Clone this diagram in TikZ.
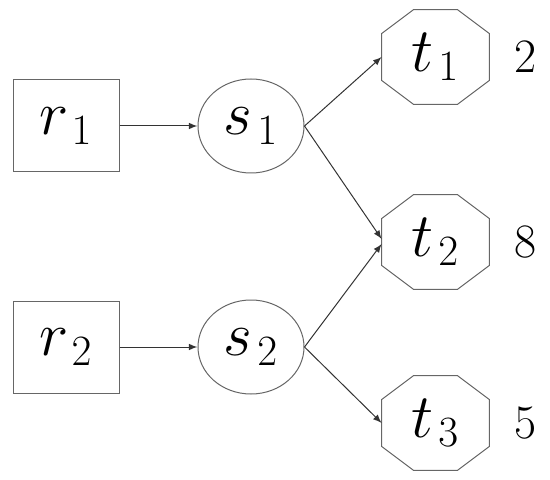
\documentclass[tikz,border=0pt]{standalone}
\usetikzlibrary{arrows,positioning}
\usetikzlibrary{shapes.geometric}

\newcommand{\sub}[2]{\scalebox{1.25}{$#1_{\kern2pt\scriptscriptstyle #2}$}}

\tikzset{
  source/.style={rectangle,draw=black!60,line width=0.5pt,minimum width=53pt,minimum height=46pt,inner sep=0pt,font=\Huge},
  switch/.style={ellipse,draw=black!60,line width=0.5pt,minimum width=53pt,minimum height=47pt,inner sep=0pt,font=\Huge},
  sink/.style={rectangle,minimum width=53.5pt,minimum height=47pt,inner sep=0pt,font=\Huge},
  octagon/.style={draw=black!60,line width=0.5pt},
  demand/.style={font=\fontsize{24}{28}\selectfont}
}

\begin{document}
\begin{tikzpicture}[x=0.5pt,y=-0.5pt,>=latex,shorten >=0pt,auto,node distance=92.5pt,
    every edge/.style={draw=black!80,line width=0.5pt}]
  \useasboundingbox (0,0) rectangle (550,480);

  \node[source] (r1) at (66,126)  {\sub{r}{1}};
  \node[source] (r2) at (66,347)  {\sub{r}{2}};
  \node[switch]        (s1) [right of=r1] {\sub{s}{1}};
  \node[switch]        (s2) [right of=r2] {\sub{s}{2}};
  \node[sink] (t1) at (435.5,57)  {\sub{t}{1}};
  \node[sink] (t2) at (435.5,242) {\sub{t}{2}};
  \node[sink] (t3) at (435.5,423) {\sub{t}{3}};
  \node[demand] (d1) [right of=t1,node distance=45pt] {2};
  \node[demand] (d2) [right of=t2,node distance=45pt] {8};
  \node[demand] (d3) [right of=t3,node distance=45pt] {5};

  % octagon borders of the sinks
  \foreach \t in {t1,t2,t3}
    \draw[octagon] ([xshift=16pt]\t.north west) -- ([xshift=-16pt]\t.north east)
      -- ([yshift=-12pt]\t.north east) -- ([yshift=12pt]\t.south east)
      -- ([xshift=-16pt]\t.south east) -- ([xshift=16pt]\t.south west)
      -- ([yshift=12pt]\t.south west) -- ([yshift=-12pt]\t.north west) -- cycle;

  \path[->]
    (r1) edge (s1)
    (r2) edge (s2)
    (s1.east) edge (t1.west)
    (s1.east) edge ([yshift=1.5pt]t2.west)
    (s2.east) edge ([yshift=-1pt]t2.west)
    (s2.east) edge (t3.west);

\end{tikzpicture}
\end{document}
